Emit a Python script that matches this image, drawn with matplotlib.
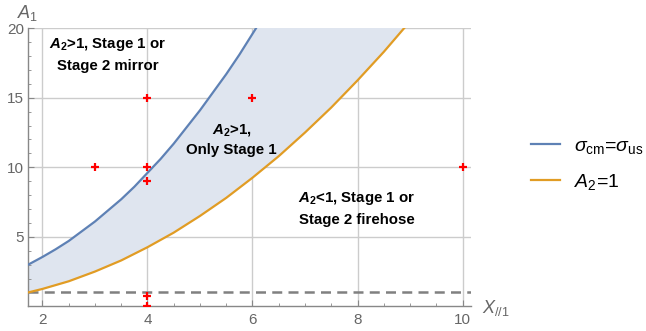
import matplotlib
matplotlib.use("Agg")
import matplotlib.pyplot as plt
from matplotlib.ticker import MultipleLocator

plt.rcParams['font.family'] = ['Liberation Sans', 'DejaVu Sans']
plt.rcParams['mathtext.fontset'] = 'custom'
plt.rcParams['mathtext.rm'] = 'Liberation Sans'
plt.rcParams['mathtext.it'] = 'Liberation Sans:italic'
plt.rcParams['mathtext.bf'] = 'Liberation Sans:bold'
plt.rcParams['mathtext.bfit'] = 'Liberation Sans:bold:italic'

# curve points
blue_x = [1.73, 2.0, 2.25, 2.5, 2.75, 3.0, 3.25, 3.5, 3.75, 4.0, 4.25, 4.5, 4.75,
          5.0, 5.25, 5.5, 5.75, 6.0, 6.1]
blue_y = [3.0, 3.55, 4.1, 4.7, 5.4, 6.1, 6.9, 7.7, 8.6, 9.6, 10.6, 11.7, 12.9,
          14.1, 15.4, 16.7, 18.1, 19.6, 20.2]
orange_x = [1.73, 2.0, 2.5, 3.0, 3.5, 4.0, 4.5, 5.0, 5.5, 6.0, 6.5, 7.0, 7.5,
            8.0, 8.5, 9.0]
orange_y = [1.0, 1.25, 1.8, 2.5, 3.3, 4.25, 5.3, 6.5, 7.8, 9.25, 10.8, 12.5, 14.3,
            16.25, 18.3, 20.5]

# sample points
pts_x = [4, 6, 3, 4, 4, 10, 4, 4]
pts_y = [15, 15, 10, 10, 9, 10, 0.75, 0]

threshold = 1.0

blue = '#5e81b5'
orange = '#e19c24'
gray = '#666666'

fig = plt.figure(figsize=(6.46, 3.31), dpi=100)
ax = fig.add_axes([0.0438, 0.0746, 0.686, 0.8400])

# shaded band between the two curves
poly_x = blue_x + orange_x[::-1]
poly_y = blue_y + orange_y[::-1]
ax.fill(poly_x, poly_y, color='#dfe5ef', lw=0, zorder=1)

for v in [2, 4, 6, 8, 10]:
    ax.axvline(v, color='#cccccc', lw=1, zorder=0)
for v in [5, 10, 15, 20]:
    ax.axhline(v, color='#cccccc', lw=1, zorder=0)

ax.plot(blue_x, blue_y, color=blue, lw=1.6, zorder=3, label=r'$\sigma_{\rm cm}$=$\sigma_{\rm us}$')
ax.plot(orange_x, orange_y, color=orange, lw=1.6, zorder=3, label=r'$A_{\rm 2}$=1')
ax.axhline(threshold, color='#808080', lw=1.8, ls=(0, (4, 2.5)), zorder=2)
ax.plot(pts_x, pts_y, ls='none', marker='+', ms=5.5, mew=1.6, color='red', zorder=4)

ax.set_xlim(1.73, 10.17)
ax.set_ylim(0, 20)

for s in ['top', 'right']:
    ax.spines[s].set_visible(False)
for s in ['left', 'bottom']:
    ax.spines[s].set_color('#888888')
    ax.spines[s].set_linewidth(1)

ax.xaxis.set_major_locator(MultipleLocator(2))
ax.xaxis.set_minor_locator(MultipleLocator(0.5))
ax.yaxis.set_major_locator(MultipleLocator(5))
ax.yaxis.set_minor_locator(MultipleLocator(1))
ax.set_yticks([5, 10, 15, 20])
ax.tick_params(which='major', direction='in', length=4, color='#888888',
               labelcolor=gray, labelsize=11)
ax.tick_params(which='minor', direction='in', length=2.5, color='#888888')
ax.tick_params(axis='x', pad=5)
ax.tick_params(axis='y', pad=3)

fig.text(0.026, 0.96, r'$A_1$', color=gray, fontsize=13, ha='left', va='center')
fig.text(0.746, 0.068, r'$X_{//1}$', color=gray, fontsize=13, ha='left', va='center')

fs = 10.8
ax.text(3.25, 18.1, r'$\mathbfit{A}_{\mathbf{2}}$>1, Stage 1 or' + '\nStage 2 mirror',
        ha='center', va='center', fontsize=fs, fontweight='bold', linespacing=1.55, zorder=5)
ax.text(5.6, 12.0, r'$\mathbfit{A}_{\mathbf{2}}$>1,' + '\nOnly Stage 1',
        ha='center', va='center', fontsize=fs, fontweight='bold', linespacing=1.45, zorder=5)
ax.text(7.98, 7.05, r'$\mathbfit{A}_{\mathbf{2}}$<1, Stage 1 or' + '\nStage 2 firehose',
        ha='center', va='center', fontsize=fs, fontweight='bold', linespacing=1.55, zorder=5)

ax.legend(loc='center left', bbox_to_anchor=(1.095, 0.51), frameon=False,
          fontsize=14, handlelength=1.5, labelspacing=0.85, handletextpad=0.7)

fig.savefig('out.png', dpi=100)
